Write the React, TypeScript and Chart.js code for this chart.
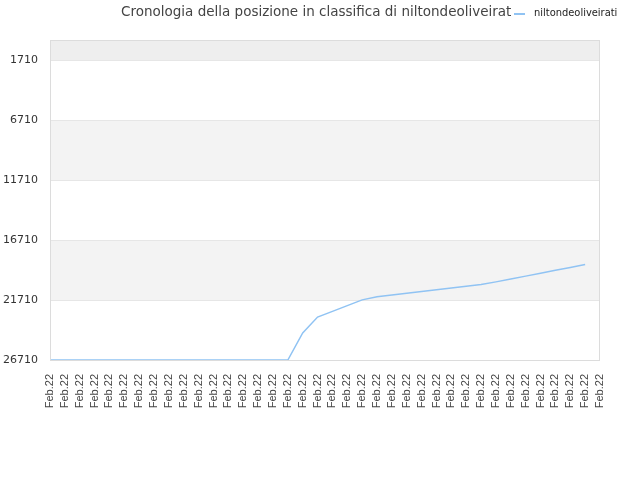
import { useEffect, useRef } from "react";
import { Chart, registerables } from "chart.js";

Chart.register(...registerables);

const titleText = "Cronologia della posizione in classifica di niltondeoliveirat";
const seriesName = "niltondeoliveirati";

// 38 date labels, all in the same month
const dateLabels = Array(38).fill("Feb.22");

// ranking position per date (lower is better, axis is reversed)
const rankValues = [
  26710, 26710, 26710, 26710, 26710, 26710, 26710, 26710, 26710, 26710,
  26710, 26710, 26710, 26710, 26710, 26710, 26710, 24460, 23130, 22660,
  22180, 21700, 21440, 21300, 21150, 21000, 20860, 20710, 20560, 20420,
  20200, 19960, 19720, 19480, 19240, 19000, 18760,
];

const yTicks = [1710, 6710, 11710, 16710, 21710, 26710];

const lineColor = "#90c3f3";

const decorPlugin = {
  id: "decor",
  beforeDraw(chart: any) {
    const { ctx, chartArea } = chart;
    const y = chart.scales.y;
    ctx.save();
    // top band above first tick
    const firstPx = y.getPixelForValue(yTicks[0]);
    ctx.fillStyle = "#eeeeee";
    ctx.fillRect(chartArea.left, chartArea.top, chartArea.right - chartArea.left, firstPx - chartArea.top);
    // alternating bands
    ctx.fillStyle = "#f3f3f3";
    for (let i = 1; i < yTicks.length - 1; i += 2) {
      const a = y.getPixelForValue(yTicks[i]);
      const b = y.getPixelForValue(yTicks[i + 1]);
      ctx.fillRect(chartArea.left, a, chartArea.right - chartArea.left, b - a);
    }
    ctx.restore();
  },
  afterDraw(chart: any) {
    const { ctx, chartArea } = chart;
    ctx.save();
    ctx.strokeStyle = "#dcdcdc";
    ctx.lineWidth = 1;
    ctx.strokeRect(chartArea.left + 0.5, chartArea.top + 0.5, chartArea.right - chartArea.left - 1, chartArea.bottom - chartArea.top);
    // title
    ctx.fillStyle = "#444";
    ctx.font = "13.5px 'DejaVu Sans'";
    ctx.textBaseline = "middle";
    ctx.textAlign = "left";
    ctx.fillText(titleText, 121, 12);
    // legend
    ctx.strokeStyle = lineColor;
    ctx.lineWidth = 2;
    ctx.beginPath();
    ctx.moveTo(514, 14);
    ctx.lineTo(525, 14);
    ctx.stroke();
    ctx.fillStyle = "#222";
    ctx.font = "11px 'DejaVu Sans Condensed'";
    ctx.fillText(seriesName, 534, 13);
    ctx.restore();
  },
};

export default function App() {
  const canvasRef = useRef<HTMLCanvasElement>(null);

  useEffect(() => {
    if (!canvasRef.current) return;
    const chart = new Chart(canvasRef.current, {
      type: "line",
      data: {
        labels: dateLabels,
        datasets: [
          {
            label: seriesName,
            data: rankValues,
            borderColor: lineColor,
            borderWidth: 1.5,
            pointRadius: 0,
            tension: 0,
            fill: false,
          },
        ],
      },
      options: {
        responsive: false,
        animation: false,
        devicePixelRatio: 1,
        layout: { padding: { top: 40, right: 40, left: 0, bottom: 0 } },
        plugins: {
          legend: { display: false },
          title: { display: false },
          tooltip: { enabled: false },
        },
        scales: {
          x: {
            offset: false,
            grid: { display: false },
            border: { display: false },
            ticks: {
              autoSkip: false,
              minRotation: 90,
              maxRotation: 90,
              padding: 6,
              color: "#444",
              font: { family: "'Liberation Sans', Arial", size: 11 },
            },
            afterFit(scale: any) {
              scale.height = 120;
            },
          },
          y: {
            reverse: true,
            min: 43,
            max: 26710,
            grid: { color: "#e6e6e6", drawTicks: false },
            border: { display: false },
            ticks: {
              padding: 12,
              color: "#333",
              font: { family: "'DejaVu Sans'", size: 11 },
              callback: (v: any) => String(v),
            },
            afterBuildTicks(scale: any) {
              scale.ticks = yTicks.map((v) => ({ value: v }));
            },
            afterFit(scale: any) {
              scale.width = 50;
            },
          },
        },
      },
      plugins: [decorPlugin],
    });
    return () => chart.destroy();
  }, []);

  return (
    <div style={{ position: "fixed", left: 0, top: 0, width: 640, height: 480, background: "#fff" }}>
      <canvas ref={canvasRef} width={640} height={480} />
    </div>
  );
}
